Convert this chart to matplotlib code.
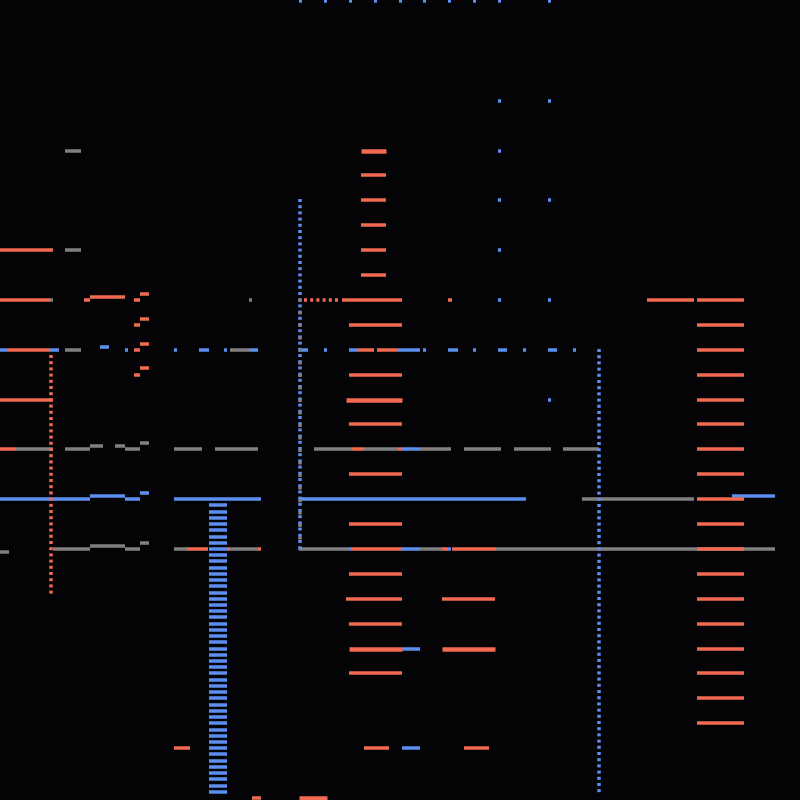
import numpy as np
import matplotlib
matplotlib.use("Agg")
import matplotlib.pyplot as plt

# --- palette ---
BG = "#040406"
SALMON = "#f26b50"
BLUE = "#5b8ff0"
GRAY = "#808080"

# --- segments: (y, x_start, x_end) in canvas units (0..800, y down) ---
salmon_segs = [
    (250, 0, 53), (300, 0, 50), (300, 84, 90), (297, 90, 125), (300, 134, 140),
    (294, 140, 149), (319, 140, 149), (325, 134, 140), (344, 140, 149),
    (350, 8, 50), (350, 134, 140), (368, 140, 149), (375, 134, 140),
    (400, 0, 53), (449, 0, 16), (549, 187, 208), (549, 227, 230), (549, 258, 261),
    (748, 174, 190), (798, 252, 261),
    (175, 361, 386), (200, 361, 386), (225, 361, 386), (250, 361, 386), (275, 361, 386),
    (300, 342, 402), (300, 448, 452), (325, 349, 402), (350, 358, 374), (350, 377, 398),
    (375, 349, 402), (424, 349, 402), (449, 352, 364), (449, 398, 402),
    (474, 349, 402), (524, 349, 402), (549, 352, 402), (549, 442, 448), (549, 452, 496),
    (574, 349, 402), (599, 346, 402), (599, 442, 495), (624, 349, 402), (673, 349, 402),
    (748, 364, 389), (748, 464, 489),
    (300, 647, 694),
]
salmon_thick = [
    (151, 361, 386), (400, 346, 402), (649, 349, 402), (649, 442, 495), (798, 299, 327),
]
# right-hand ladder
ladder_y = [300, 325, 350, 375, 400, 424, 449, 474, 499, 524, 549, 574, 599, 624,
            649, 673, 698, 723]
ladder_x = (697, 744)

blue_segs = [
    (350, 0, 8), (350, 50, 59), (347, 100, 109), (350, 125, 128), (350, 174, 177),
    (350, 199, 209), (350, 224, 227), (350, 249, 258),
    (499, 0, 90), (496, 90, 125), (499, 125, 140), (493, 140, 149), (499, 174, 261),
    (350, 302, 308), (350, 324, 327), (350, 349, 358), (350, 398, 420), (350, 423, 426),
    (350, 448, 458), (350, 473, 476), (350, 498, 507), (350, 523, 526), (350, 548, 557),
    (350, 573, 576),
    (449, 402, 420), (499, 299, 526), (549, 349, 352), (549, 402, 420), (549, 448, 451),
    (649, 402, 420), (748, 402, 420), (496, 732, 775),
]
# isolated blue dots (x, y)
blue_dots = [
    (300, 1), (325, 1), (350, 1), (375, 1), (400, 1), (424, 1), (449, 1), (474, 1),
    (499, 1), (549, 1), (499, 101), (549, 101), (499, 151), (499, 200), (549, 200),
    (499, 250), (499, 300), (549, 300), (549, 400),
]
# stacked blue bars
stack_y = [505, 512, 518, 524, 530, 537, 543, 549, 555, 561, 568, 574, 580, 586,
           593, 599, 605, 611, 617, 624, 630, 636, 642, 649, 655, 661, 667, 673,
           680, 686, 692, 698, 705, 711, 717, 723, 730, 736, 742, 748, 754, 761,
           767, 773, 779, 786, 792]
stack_x = (209, 227)

gray_segs = [
    (151, 65, 81), (250, 65, 81), (300, 50, 53), (300, 249, 252), (350, 65, 81),
    (350, 230, 249),
    (449, 16, 53), (449, 65, 90), (446, 90, 103), (446, 115, 125), (449, 125, 140),
    (443, 140, 149), (449, 174, 202), (449, 215, 258),
    (552, 0, 9), (549, 53, 90), (546, 90, 125), (549, 125, 140), (543, 140, 149),
    (549, 174, 187), (549, 230, 258),
    (449, 314, 352), (449, 364, 398), (449, 420, 451), (449, 464, 501), (449, 514, 551),
    (449, 563, 599), (499, 582, 694), (549, 299, 349), (549, 420, 442), (549, 496, 775),
]

# dotted runs: (x, y_start, y_end) vertical, (y, x_start, x_end) horizontal
salmon_dotted_v = [(51, 355, 596)]
blue_dotted_v = [(300, 199, 550), (599, 349, 794)]
gray_dotted_v = [(300, 299, 550)]
salmon_dotted_h = [(300, 304, 340)]

PX = 72 / 100  # one pixel in points
LW = 3.5


def draw_h(ax, segs, color, width=LW, z=2):
    ys = [s[0] for s in segs]
    ax.hlines(ys, [s[1] for s in segs], [s[2] for s in segs], colors=color,
              linewidth=width * PX, zorder=z)


fig = plt.figure(figsize=(8, 8), dpi=100)
fig.patch.set_facecolor(BG)
ax = fig.add_axes([0, 0, 1, 1])
ax.set_facecolor(BG)
ax.set_xlim(0, 800)
ax.set_ylim(800, 0)
ax.axis("off")

draw_h(ax, gray_segs, GRAY, z=1)
draw_h(ax, blue_segs, BLUE, z=2)
draw_h(ax, salmon_segs, SALMON, z=3)
draw_h(ax, salmon_thick, SALMON, width=4.5, z=3)
draw_h(ax, [(y, *ladder_x) for y in ladder_y], SALMON, z=3)
draw_h(ax, [(y, *stack_x) for y in stack_y], BLUE, z=4)
draw_h(ax, [(y, x - 1.5, x + 1.5) for x, y in blue_dots], BLUE, z=4)

# dotted lines
dots = (0, (3 / LW, 3.2 / LW))
for x, y0, y1 in blue_dotted_v:
    ax.vlines(x, y0, y1, colors=BLUE, linewidth=LW * PX, linestyles=dots, zorder=5)
for x, y0, y1 in gray_dotted_v:
    ax.vlines(x, y0, y1, colors=GRAY, linewidth=LW * PX,
              linestyles=(0, (3 / LW, 9.5 / LW)), zorder=6)
for x, y0, y1 in salmon_dotted_v:
    ax.vlines(x, y0, y1, colors=SALMON, linewidth=LW * PX, linestyles=dots, zorder=5)
for y, x0, x1 in salmon_dotted_h:
    ax.hlines(y, x0, x1, colors=SALMON, linewidth=LW * PX, linestyles=dots, zorder=5)

fig.savefig("out.png", dpi=100, facecolor=BG)
